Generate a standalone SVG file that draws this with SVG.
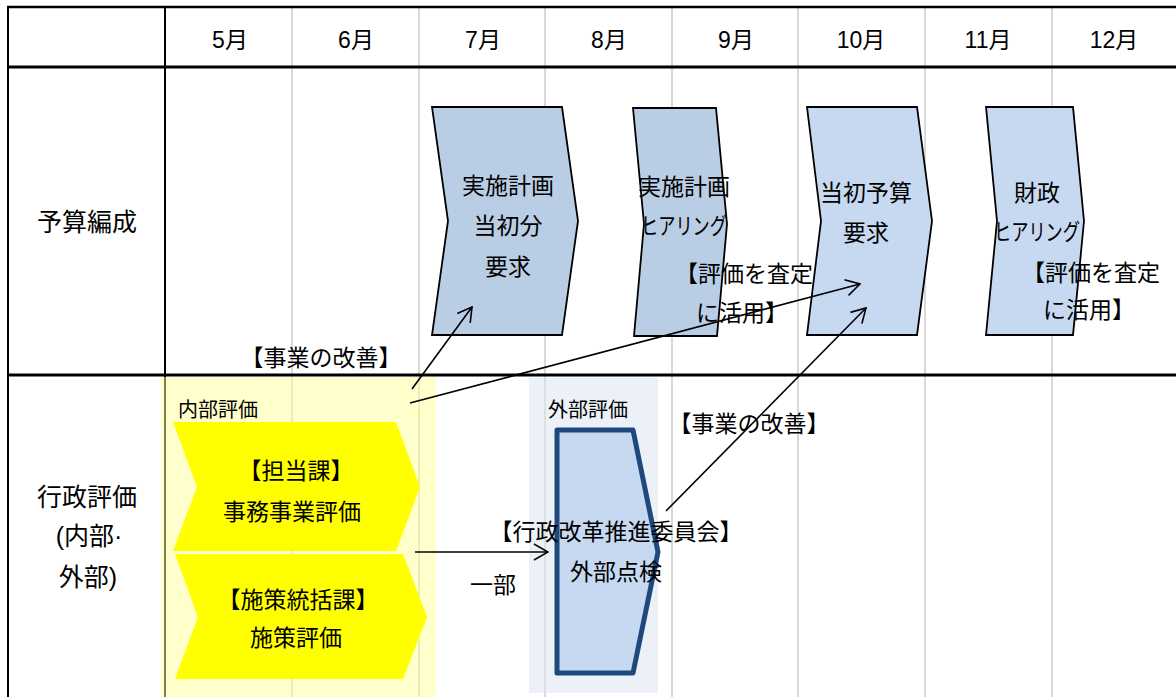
<svg xmlns="http://www.w3.org/2000/svg" width="1176" height="697" viewBox="0 0 1176 697">
<defs>
<style>
text{font-family:"Liberation Sans","Noto Sans CJK JP",sans-serif;fill:#000;}
.t{font-size:23px;text-anchor:middle;}
.lab{font-size:25px;text-anchor:middle;}
.s{font-size:20px;}
.grid{stroke:#D9D9D9;stroke-width:2;}
.bl{stroke:#000;fill:none;}
.bud1{fill:#B9CDE5;stroke:#000;stroke-width:1.8;}
.bud2{fill:#C6D9F1;stroke:#000;stroke-width:1.8;}
.yel{fill:#FFFF00;}
.conn{stroke:#000;stroke-width:1.6;fill:none;marker-end:url(#arr);}
</style>
<marker id="arr" viewBox="0 0 16 18" refX="15" refY="9" markerWidth="16" markerHeight="18" markerUnits="userSpaceOnUse" orient="auto">
<path d="M1,1 L15,9 L1,17" fill="none" stroke="#000" stroke-width="1.6"/>
</marker>
</defs>
<rect width="1176" height="697" fill="#fff"/>
<g id="table">
<g class="grid">
<line x1="292" y1="8" x2="292" y2="697"/>
<line x1="419" y1="8" x2="419" y2="697"/>
<line x1="545" y1="8" x2="545" y2="697"/>
<line x1="672" y1="8" x2="672" y2="697"/>
<line x1="798" y1="8" x2="798" y2="697"/>
<line x1="925" y1="8" x2="925" y2="697"/>
<line x1="1052" y1="8" x2="1052" y2="697"/>
</g>
<line class="bl" x1="7" y1="7" x2="1176" y2="7" stroke-width="2.5"/>
<line class="bl" x1="8" y1="6" x2="8" y2="697" stroke-width="2"/>
<line class="bl" x1="165" y1="6" x2="165" y2="697" stroke-width="2"/>
<line class="bl" x1="7" y1="67" x2="1176" y2="67" stroke-width="3"/>
<line class="bl" x1="7" y1="375" x2="1176" y2="375" stroke-width="3"/>
<g class="t">
<text x="230" y="48">5月</text>
<text x="356" y="48">6月</text>
<text x="483" y="48">7月</text>
<text x="609" y="48">8月</text>
<text x="736" y="48">9月</text>
<text x="861" y="48">10月</text>
<text x="988" y="48">11月</text>
<text x="1114" y="48">12月</text>
</g>
<g class="lab">
<text x="87" y="231">予算編成</text>
<text x="87" y="506">行政評価</text>
<text x="89" y="545">(内部·</text>
<text x="88" y="586">外部)</text>
</g>
</g>
<g id="zone-internal">
<rect x="161" y="377" width="275" height="320" fill="#FFFF99" fill-opacity="0.5"/>
<text class="s" x="178" y="417">内部評価</text>
</g>
<g id="zone-external">
<rect x="529" y="378" width="129" height="315" fill="#DCE6F2" fill-opacity="0.55"/>
<text class="s" x="548" y="417">外部評価</text>
</g>
<g id="node-plan-request">
<polygon class="bud1" points="432,107 562,107 578,221 562,335 432,335 448,221"/>
<text class="t" x="508" y="194">実施計画</text>
<text class="t" x="508" y="234">当初分</text>
<text class="t" x="508" y="275">要求</text>
</g>
<g id="node-plan-hearing">
<polygon class="bud1" points="633,108 716,108 727,224 717,336 634,336 644,224"/>
<text class="t" x="684" y="195">実施計画</text>
<text class="t" x="684" y="234" textLength="86" lengthAdjust="spacingAndGlyphs">ヒアリング</text>
<text class="t" x="744" y="282">【評価を査定</text>
<text class="t" x="742" y="321">に活用】</text>
</g>
<g id="node-initial-budget">
<polygon class="bud2" points="807,107 917,107 932,221 917,335 807,335 821,221"/>
<text class="t" x="866" y="201">当初予算</text>
<text class="t" x="866" y="241">要求</text>
</g>
<g id="node-finance-hearing">
<polygon class="bud2" points="986,107 1073,107 1084,221 1073,335 986,335 997,221"/>
<text class="t" x="1037" y="201">財政</text>
<text class="t" x="1037" y="240" textLength="86" lengthAdjust="spacingAndGlyphs">ヒアリング</text>
<text class="t" x="1091" y="281">【評価を査定</text>
<text class="t" x="1089" y="318">に活用】</text>
</g>
<g id="node-office-eval">
<polygon class="yel" points="173,422 396,422 420,487 396,551 173,551 197,487"/>
<text class="t" x="296" y="479">【担当課】</text>
<text class="t" x="292" y="520">事務事業評価</text>
</g>
<g id="node-policy-eval">
<polygon class="yel" points="175,554 403,554 427,617 403,679 175,679 198,617"/>
<text class="t" x="298" y="608">【施策統括課】</text>
<text class="t" x="296" y="646">施策評価</text>
</g>
<g id="node-external-check">
<polygon points="557,430 633,430 658,552 633,673 557,673" fill="#C6D9F1" stroke="#1F497D" stroke-width="5" stroke-linejoin="round"/>
<text class="t" x="616" y="540">【行政改革推進委員会】</text>
<text class="t" x="616" y="580">外部点検</text>
</g>
<g id="connectors">
<line class="conn" x1="412" y1="389" x2="472" y2="307"/>
<line class="conn" x1="410" y1="403" x2="860" y2="284"/>
<line class="conn" x1="666" y1="511" x2="866" y2="308"/>
<line class="conn" x1="415" y1="552" x2="548" y2="552"/>
<text class="t" x="321" y="366">【事業の改善】</text>
<text class="t" x="749" y="432">【事業の改善】</text>
<text class="t" x="493" y="593">一部</text>
</g>
</svg>
